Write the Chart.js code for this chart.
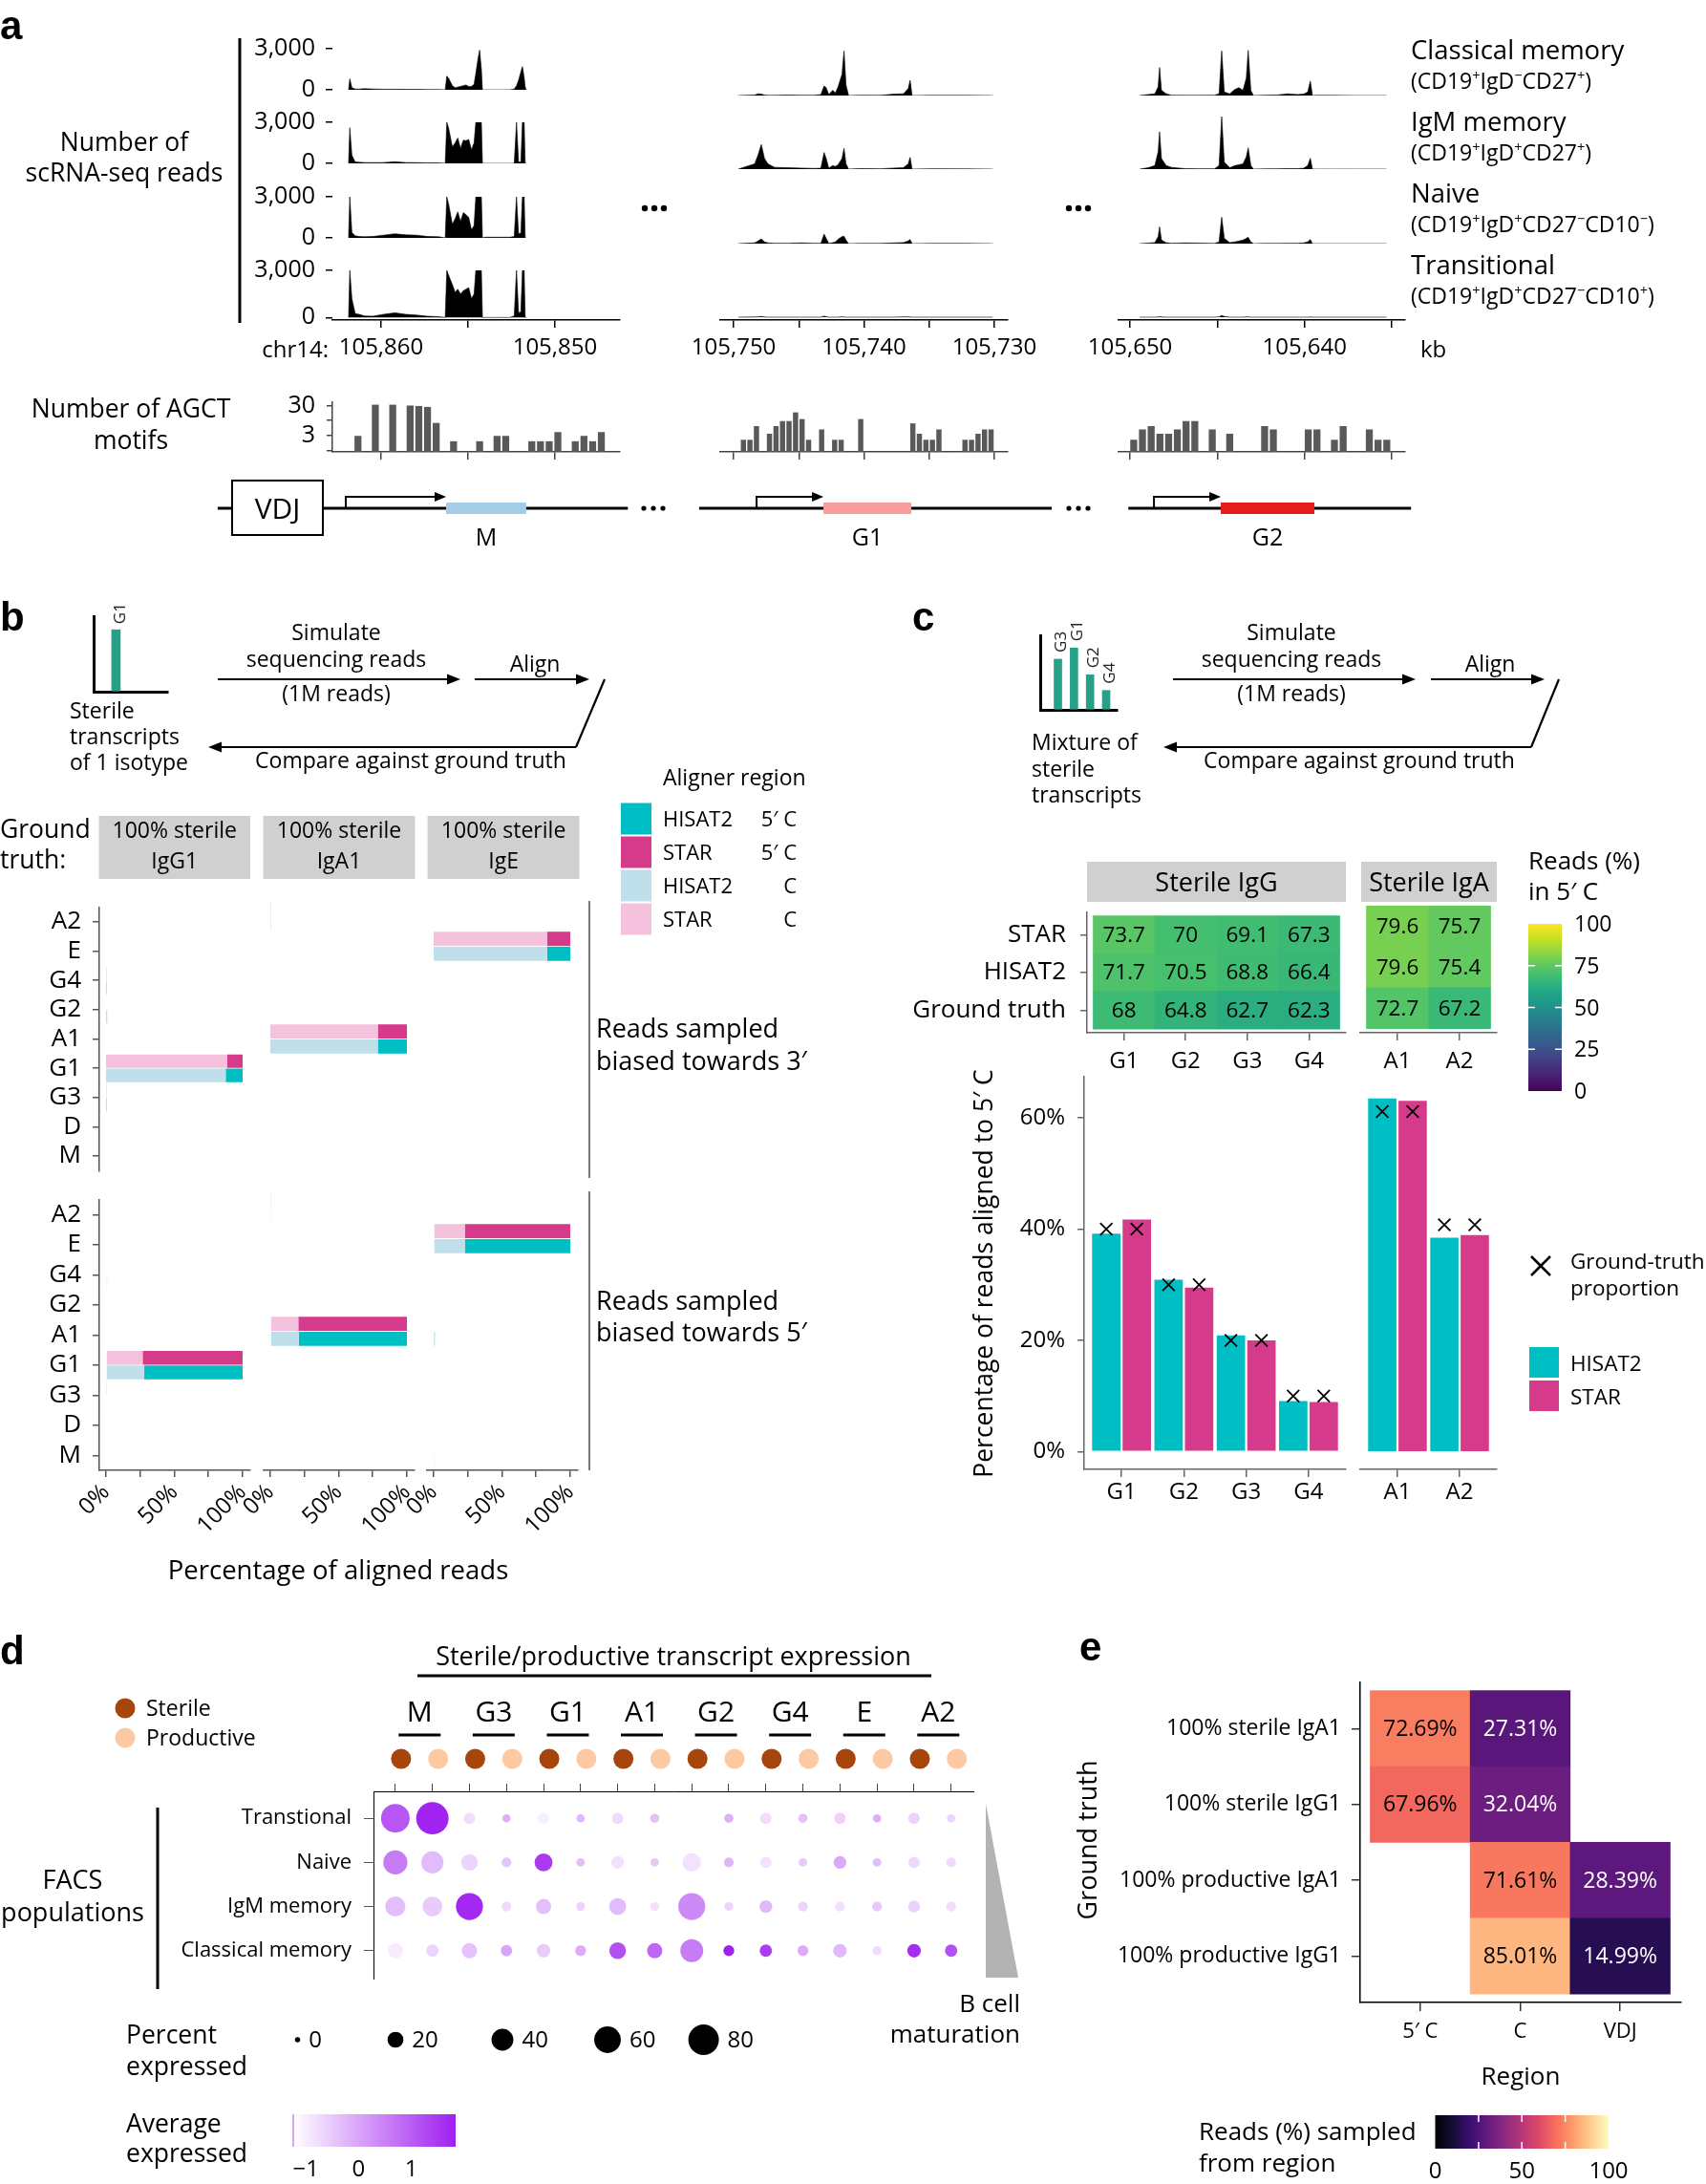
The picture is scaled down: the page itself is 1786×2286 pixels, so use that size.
<!DOCTYPE html>
<html>
<head>
<meta charset="utf-8">
<title>Sterile transcripts</title>
<script src="https://cdn.jsdelivr.net/npm/chart.js@4.4.1/dist/chart.umd.min.js"></script>
<style>
html,body{margin:0;padding:0;background:#fff;}
#root{position:relative;width:1786px;height:2286px;overflow:hidden;background:#fff;}
#ov{position:absolute;left:0;top:0;}
</style>
</head>
<body>
<div id="root"></div>
<script>
// ===================== DATA =====================
// ---- Panel a: scRNA-seq coverage (kb positions, reads) ----
const trackNames = ['Classical memory', 'IgM memory', 'Naive', 'Transitional'];
const seg1Kb = [105861.87,105861.80,105861.68,105861.49,105861.27,105860.95,105860.48,105859.85,105859.21,105858.58,105857.95,105857.32,105856.69,105856.31,105856.22,105856.12,105855.90,105855.74,105855.59,105855.43,105855.27,105855.12,105854.96,105854.80,105854.65,105854.55,105854.42,105854.33,105854.23,105854.17,105854.01,105853.54,105852.59,105852.34,105852.21,105852.09,105851.96,105851.87,105851.77,105851.71,105851.65];
const covClassicalS1 = [0,800,150,60,50,80,60,40,40,30, 30,20,20,0,1000,850,300,150,200,250, 300,350,250,250,400,1200,2300,2900,1500,0, 0,0,0,50,300,700,1300,1700,900,200, 0];
const covIgMS1 = [0,2600,600,100,80,60,50,60,120,60, 50,40,30,0,3000,2600,1200,1500,1850,1100, 1700,1650,1750,1000,1500,3000,3000,3000,3000,0, 0,0,0,0,3000,100,100,3000,3000,0, 0];
const covNaiveS1 = [0,3000,400,150,100,80,100,200,300,220, 200,100,80,0,3000,2500,1000,1400,1900,1200, 1850,1700,1500,600,900,3000,3000,3000,3000,0, 50,50,50,100,3000,300,350,3000,3000,0, 0];
const covTransS1 = [0,3000,1200,250,200,100,80,200,300,200, 150,80,50,0,3000,2700,2100,1600,1800,1500, 1700,1800,1900,1200,1500,3000,3000,3000,3000,0, 0,0,0,100,3000,300,350,3000,3000,0, 0];

const seg2Kb = [105749.65,105748.39,105748.13,105747.88,105747.63,105747.37,105746.86,105745.85,105744.83,105743.82,105743.31,105743.06,105742.90,105742.70,105742.40,105742.19,105741.99,105741.69,105741.53,105741.38,105741.18,105740.27,105738.74,105737.73,105736.97,105736.61,105736.46,105736.31,105734.68,105732.15,105730.12];
const covClassicalS2 = [0,30,100,80,30,10,10,30,20,20, 50,550,450,50,300,150,500,1200,2550,600, 0,20,10,80,100,400,870,0,10,10, 0];
const covIgMS2 = [0,300,800,1400,600,300,100,80,60,40, 50,950,600,50,200,150,250,600,1180,300, 0,30,20,60,80,300,670,0,20,10, 0];
const covNaiveS2 = [0,40,150,270,100,40,20,20,40,20, 20,545,300,20,50,100,250,400,420,200, 0,10,10,40,60,150,236,0,10,10, 0];
const covTransS2 = [0,10,20,40,10,0,0,0,0,0, 0,60,30,0,0,0,0,20,10,0, 0,0,0,0,15,20,10,0,0,0, 0];

const seg3Kb = [105649.45,105648.96,105648.58,105648.39,105648.31,105648.20,105647.93,105647.63,105646.87,105646.11,105645.16,105644.90,105644.75,105644.60,105644.29,105643.99,105643.76,105643.53,105643.34,105643.23,105643.08,105642.93,105642.32,105641.56,105640.99,105640.42,105640.05,105639.82,105639.67,105639.55,105639.29,105638.53,105637.01,105635.31];
const covClassicalS3 = [0,60,100,500,1600,300,100,20,10,10, 20,100,2550,200,100,350,450,300,1000,2580, 300,0,20,30,100,60,80,200,820,0, 10,10,0,0];
const covIgMS3 = [0,80,200,1000,2130,600,200,100,30,20, 20,200,3000,400,80,200,250,300,700,1220, 200,0,10,20,30,30,50,200,620,0, 0,0,0,0];
const covNaiveS3 = [0,30,60,400,960,200,50,20,40,30, 10,100,1510,300,60,100,150,200,300,364, 100,0,10,10,20,20,40,100,236,0, 0,0,0,0];
const covTransS3 = [0,0,0,10,30,10,0,0,0,0, 0,20,100,40,0,0,0,0,10,20, 0,0,0,0,0,0,0,0,10,0, 0,0,0,0];

const segTicks = [[105860,105855,105850],[105750,105745,105740,105735,105730],[105650,105645,105640,105635]];
const segTickLabels = [['105,860','','105,850'],['105,750','','105,740','','105,730'],['105,650','','105,640','']];

// ---- Panel a: AGCT motif counts per 0.5-kb bin ----
const agct1Kb = [105861.33,105860.33,105859.33,105858.33,105857.83,105857.33,105856.83,105855.83,105854.33,105853.33,105852.83,105851.33,105850.83,105850.33,105849.83,105848.83,105848.33,105847.83,105847.33];
const agct1 = [3,32,32,30,29,27,8,2,2,3,3,2,2,2,4,2,3,2,4];
const agct2Kb = [105749.25,105748.75,105748.25,105747.25,105746.75,105746.25,105745.75,105745.25,105744.75,105744.25,105743.25,105742.25,105741.75,105740.25,105736.25,105735.75,105735.25,105734.75,105734.25,105732.25,105731.75,105731.25,105730.75,105730.25];
const agct2 = [2,2,5,3,5,7,7,12.5,8,2,4,2,2,8,6,3,2,2,4,2,2,3,4,4];
const agct3Kb = [105649.79,105649.29,105648.79,105648.29,105647.79,105647.29,105646.79,105646.29,105645.29,105644.29,105642.29,105641.79,105639.79,105639.29,105638.29,105637.79,105636.29,105635.79,105635.29];
const agct3 = [2,4,5,3,3,4,7,7,4,3,5,4,4,4,2,5,4,2,2];

// ---- Panel a: gene model (kb) ----
const geneNames = ['M', 'G1', 'G2'];
const exonStartKb = [105856.26, 105743.11, 105644.80];
const exonEndKb = [105851.65, 105736.37, 105639.44];
const tssKb = [105862.03, 105748.24, 105648.63];
const backboneStartKb = [105869.4, 105752.65, 105650.1];
const backboneEndKb = [105845.8, 105725.6, 105633.9];
const vdjKb = [105868.57, 105863.35];

// ---- Panel b: % of aligned reads (A2,E,G4,G2,A1,G1,G3,D,M) ----
const bCats = ['A2','E','G4','G2','A1','G1','G3','D','M'];
const b3_IgG1_STAR_C    = [0,0,0.3,0,0,88.8,0.3,0,0];
const b3_IgG1_STAR_5C   = [0,0,0,0,0,11.2,0,0,0];
const b3_IgG1_HISAT2_C  = [0,0,0.7,0.9,0,87.6,0.7,0,0];
const b3_IgG1_HISAT2_5C = [0,0,0,0,0,12.4,0,0,0];
const b3_IgA1_STAR_C    = [0.3,0,0,0,78.7,0,0,0,0];
const b3_IgA1_STAR_5C   = [0,0,0,0,21.3,0,0,0,0];
const b3_IgA1_HISAT2_C  = [0.3,0,0,0,78.7,0,0,0,0];
const b3_IgA1_HISAT2_5C = [0,0,0,0,21.3,0,0,0,0];
const b3_IgE_STAR_C     = [0,83.2,0,0,0,0,0,0,0];
const b3_IgE_STAR_5C    = [0,16.8,0,0,0,0,0,0,0];
const b3_IgE_HISAT2_C   = [0,83.2,0,0,0,0,0,0,0];
const b3_IgE_HISAT2_5C  = [0,16.8,0,0,0,0,0,0,0];
const b5_IgG1_STAR_C    = [0,0,0,0,0,26.8,0.3,0,0];
const b5_IgG1_STAR_5C   = [0,0,0,0,0,73.2,0,0,0];
const b5_IgG1_HISAT2_C  = [0,0,0.8,0.5,0,28,0.5,0,0];
const b5_IgG1_HISAT2_5C = [0,0,0,0,0,72,0,0,0];
const b5_IgA1_STAR_C    = [0.3,0,0,0,20.5,0,0,0,0];
const b5_IgA1_STAR_5C   = [0,0,0,0,79.5,0,0,0,0];
const b5_IgA1_HISAT2_C  = [0.6,0,0,0,20.9,0,0,0,0];
const b5_IgA1_HISAT2_5C = [0,0,0,0,79.1,0,0,0,0];
const b5_IgE_STAR_C     = [0,22.8,0,0,0,0,0,0,0];
const b5_IgE_STAR_5C    = [0,77.2,0,0,0,0,0,0,0];
const b5_IgE_HISAT2_C   = [0,22.8,0,0,0,0,0,0,0.7];
const b5_IgE_HISAT2_5C  = [0,77.2,0,0,0.8,0,0,0,0];
const bFacetNames = [['100% sterile','IgG1'],['100% sterile','IgA1'],['100% sterile','IgE']];
const bMini = [0.82]; const bMiniLabels = ['G1'];

// ---- Panel c ----
const cIgG = ['G1','G2','G3','G4'];
const cIgA = ['A1','A2'];
const heatRows = ['Ground truth','HISAT2','STAR']; // bottom -> top
const heatIgG_STAR   = [73.7,70,69.1,67.3];
const heatIgG_HISAT2 = [71.7,70.5,68.8,66.4];
const heatIgG_GT     = [68,64.8,62.7,62.3];
const heatIgA_STAR   = [79.6,75.7];
const heatIgA_HISAT2 = [79.6,75.4];
const heatIgA_GT     = [72.7,67.2];
const pctIgG_HISAT2 = [39.2,30.9,20.9,9.1];
const pctIgG_STAR   = [41.7,29.5,20.0,8.9];
const gtIgG         = [40,30,20,10];
const pctIgA_HISAT2 = [62.3,37.7];
const pctIgA_STAR   = [61.9,38.2];
const gtIgA         = [60,40];
const cMini = [0.68,0.83,0.47,0.26]; const cMiniLabels = ['G3','G1','G2','G4'];

// ---- Panel d: dot plot ----
const dCols = ['M','G3','G1','A1','G2','G4','E','A2']; // each: sterile, productive
const dRows = ['Transtional','Naive','IgM memory','Classical memory'];
const dPctTransitional = [70,90,9,3.5,9,3.5,9,5,null,5,9,5,9,3.5,9,3.5];
const dAvgTransitional = [1.09,1.78,-0.77,-0.16,-1.04,-0.25,-0.77,-0.38,null,-0.18,-0.77,-0.38,-0.63,-0.13,-0.63,-0.65];
const dPctNaive = [49,41,22,6,26,4,12,4,28,6,9,4,12,4,9,6];
const dAvgNaive = [0.56,-0.32,-0.65,-0.45,1.48,-0.35,-0.82,-0.49,-0.85,-0.23,-0.82,-0.49,-0.06,-0.32,-0.71,-0.74];
const dPctIgM = [33,32,62,6,18,4.5,23,4.5,62,4.5,12,6,6,6,10,6];
const dAvgIgM = [-0.35,-0.51,1.73,-0.72,-0.38,-0.63,-0.32,-0.82,0.37,-0.65,-0.27,-0.65,-0.82,-0.47,-0.6,-0.77];
const dPctClassical = [18,11,18,9,14,8,22,18,44,8,11,8,14,5,14,11];
const dAvgClassical = [-0.99,-0.65,-0.4,0.0,-0.52,-0.1,1.19,0.86,0.56,1.84,1.45,-0.1,-0.27,-0.75,1.67,1.17];
const dSizeLegend = [0,20,40,60,80];
const dColorTicks = [-1,0,1];

// ---- Panel e ----
const eCols = ['5\u2032 C','C','VDJ'];
const eRows = ['100% productive IgG1','100% productive IgA1','100% sterile IgG1','100% sterile IgA1']; // bottom -> top
const eSterileIgA1 = [72.69,27.31,null];
const eSterileIgG1 = [67.96,32.04,null];
const eProductiveIgA1 = [null,71.61,28.39];
const eProductiveIgG1 = [null,85.01,14.99];

// ===================== HELPERS =====================
const FONT = '"Open Sans", Roboto, "Liberation Sans", sans-serif';
const OPEN = FONT;
Chart.defaults.font.family = FONT;
Chart.defaults.color = '#000';
const root = document.getElementById('root');

function mk(area, boxes, pad, cfg) {
  const b = Object.assign({l:0,r:0,t:0,b:0}, boxes || {});
  const p = Object.assign({l:20,r:20,t:20,b:20}, pad || {});
  const left = area[0] - b.l - p.l, top = area[1] - b.t - p.t;
  const w = Math.round(area[2] - area[0] + b.l + b.r + p.l + p.r);
  const h = Math.round(area[3] - area[1] + b.t + b.b + p.t + p.b);
  const cv = document.createElement('canvas');
  cv.width = w; cv.height = h;
  cv.style.cssText = 'position:absolute;left:' + left + 'px;top:' + top + 'px;width:' + w + 'px;height:' + h + 'px;';
  root.appendChild(cv);
  const o = cfg.options = cfg.options || {};
  o.responsive = false; o.animation = false; o.events = [];
  o.layout = {padding: {left: p.l, right: p.r, top: p.t, bottom: p.b}};
  o.plugins = Object.assign({legend: {display: false}, tooltip: {enabled: false}}, o.plugins || {});
  for (const sc of Object.values(o.scales || {})) {
    const pos = sc.position;
    const size = pos === 'left' ? b.l : pos === 'right' ? b.r : pos === 'top' ? b.t : b.b;
    sc.afterFit = s => { if (s.isHorizontal()) s.height = size; else s.width = size; };
  }
  return new Chart(cv, cfg);
}

function axis(o) {
  const a = {
    type: o.type || 'linear',
    position: o.pos,
    display: o.display !== false,
    reverse: !!o.reverse,
    offset: !!o.offset,
    border: {display: o.border !== false, color: o.bc || '#000', width: o.bw || 1.5},
    grid: {display: true, drawOnChartArea: false, drawTicks: (o.tl || 0) > 0, tickLength: o.tl || 0,
           color: o.tc || o.bc || '#000', lineWidth: o.tw || 1.5, offset: false},
    ticks: {display: o.labels !== false, padding: o.pad || 0, font: {size: o.fs || 24, family: o.ff || FONT},
            color: '#000', autoSkip: false, maxRotation: o.rot || 0, minRotation: o.rot || 0}
  };
  if (o.min !== undefined) a.min = o.min;
  if (o.max !== undefined) a.max = o.max;
  if (o.tickVals) a.afterBuildTicks = s => { s.ticks = o.tickVals.map(v => ({value: v})); };
  if (o.fmt) a.ticks.callback = o.fmt;
  if (o.stacked) a.stacked = true;
  return a;
}

function hexRgb(h) { return [parseInt(h.slice(1,3),16), parseInt(h.slice(3,5),16), parseInt(h.slice(5,7),16)]; }
function ramp(stops, t) {
  t = Math.max(0, Math.min(1, t));
  const n = stops.length - 1, i = Math.min(n - 1, Math.floor(t * n)), f = t * n - i;
  const a = hexRgb(stops[i]), b = hexRgb(stops[i + 1]);
  return 'rgb(' + a.map((v, k) => Math.round(v + (b[k] - v) * f)).join(',') + ')';
}
const VIRIDIS = ['#440154','#482475','#414487','#355f8d','#2a788e','#21918c','#22a884','#44bf70','#7ad151','#bddf26','#fde725'];
const MAGMA = ['#000004','#140e36','#3b0f70','#641a80','#8c2981','#b73779','#de4968','#f7705c','#fe9f6d','#fecf92','#fcfdbf'];
const viridis = v => ramp(VIRIDIS, v / 100);
const magma = v => ramp(MAGMA, v / 100);
const AVG_LO = -1.25, AVG_HI = 1.84;
const purple = v => ramp(['#ffffff', '#a020f0'], (v - AVG_LO) / (AVG_HI - AVG_LO));
const dotRadius = p => 0.5 * Math.sqrt(30 + 12.4 * p);

function heatSets(rows, colorFn, fmt, textColorFn) {
  return rows.map(({y, vals}) => {
    const pts = [], bg = [], lab = [], tc = [];
    vals.forEach((v, i) => {
      if (v == null) return;
      pts.push({x: i + 1, y: [y - 0.5, y + 0.5]});
      bg.push(colorFn(v)); lab.push(fmt(v)); tc.push(textColorFn ? textColorFn(v) : '#000');
    });
    return {type: 'bar', data: pts, backgroundColor: bg, cellLabels: lab, textColors: tc,
            grouped: false, barPercentage: 1, categoryPercentage: 1, borderWidth: 0};
  });
}

const cellText = {
  id: 'cellText',
  afterDatasetsDraw(chart, args, o) {
    const ctx = chart.ctx;
    chart.data.datasets.forEach((ds, di) => {
      if (!ds.cellLabels) return;
      chart.getDatasetMeta(di).data.forEach((el, i) => {
        ctx.save();
        ctx.font = o.font; ctx.fillStyle = ds.textColors[i];
        ctx.textAlign = 'center'; ctx.textBaseline = 'middle';
        ctx.fillText(ds.cellLabels[i], el.x, (el.y + el.base) / 2 + 1);
        ctx.restore();
      });
    });
  }
};

const barLabel = {
  id: 'barLabel',
  afterDatasetsDraw(chart, args, o) {
    const ctx = chart.ctx;
    chart.getDatasetMeta(0).data.forEach((el, i) => {
      ctx.save();
      ctx.translate(el.x + o.dx, el.y - o.gap);
      ctx.rotate(-Math.PI / 2);
      ctx.font = '17px ' + FONT; ctx.fillStyle = '#222';
      ctx.textAlign = 'left'; ctx.textBaseline = 'middle';
      ctx.fillText(o.labels[i], 0, 0);
      ctx.restore();
    });
  }
};

const EXON_COLORS = ['#a3cde6', '#f99d9d', '#e21d1a'];
const geneModel = {
  id: 'geneModel',
  afterDraw(chart, args, o) {
    const ctx = chart.ctx, xs = chart.scales.x, s = o.seg;
    const px = v => xs.getPixelForValue(v);
    const yl = chart.chartArea.bottom + 59;
    ctx.save();
    ctx.strokeStyle = '#000'; ctx.fillStyle = '#000';
    ctx.lineWidth = 3;
    ctx.beginPath(); ctx.moveTo(px(backboneStartKb[s]), yl); ctx.lineTo(px(backboneEndKb[s]), yl); ctx.stroke();
    const x0 = px(tssKb[s]), x1 = px(exonStartKb[s]);
    ctx.lineWidth = 2;
    ctx.beginPath(); ctx.moveTo(x0, yl); ctx.lineTo(x0, yl - 12); ctx.lineTo(x1 - 8, yl - 12); ctx.stroke();
    ctx.beginPath(); ctx.moveTo(x1, yl - 12); ctx.lineTo(x1 - 12, yl - 17); ctx.lineTo(x1 - 12, yl - 7); ctx.closePath(); ctx.fill();
    const e0 = px(exonStartKb[s]), e1 = px(exonEndKb[s]);
    ctx.fillStyle = EXON_COLORS[s];
    ctx.fillRect(e0, yl - 6, e1 - e0, 12);
    ctx.fillStyle = '#000'; ctx.font = '25px ' + FONT; ctx.textAlign = 'center'; ctx.textBaseline = 'alphabetic';
    ctx.fillText(geneNames[s], (e0 + e1) / 2, yl + 39);
    if (s === 0) {
      const v0 = px(vdjKb[0]), v1 = px(vdjKb[1]);
      ctx.fillStyle = '#fff'; ctx.fillRect(v0, yl - 29, v1 - v0, 57);
      ctx.lineWidth = 2; ctx.strokeRect(v0, yl - 29, v1 - v0, 57);
      ctx.fillStyle = '#000'; ctx.font = '30px ' + FONT;
      ctx.fillText('VDJ', (v0 + v1) / 2, yl + 11);
    }
    ctx.restore();
  }
};

const dHeader = {
  id: 'dHeader',
  afterDraw(chart) {
    const ctx = chart.ctx, xs = chart.scales.x, top = chart.chartArea.top;
    ctx.save();
    dCols.forEach((name, k) => {
      const a = xs.getPixelForValue(2 * k + 1) + 6, b = xs.getPixelForValue(2 * k + 2) + 6, c = (a + b) / 2;
      ctx.fillStyle = '#000'; ctx.font = '30px ' + FONT; ctx.textAlign = 'center'; ctx.textBaseline = 'alphabetic';
      ctx.fillText(name, c, top - 73);
      ctx.fillRect(c - 22, top - 60.5, 44, 3);
      [[a, '#a6450c'], [b, '#fdc9a3']].forEach(([x, col]) => {
        ctx.beginPath(); ctx.arc(x, top - 34, 10.5, 0, 2 * Math.PI); ctx.fillStyle = col; ctx.fill();
      });
    });
    ctx.restore();
  }
};

// ===================== PANEL a =====================
const segPx = [[348, 649], [754, 1055], [1171, 1471]];
const segKbLeft = [105862.80, 105751.03, 105650.66];
const segKbRight = [105846.26, 105728.97, 105634.24];
const trackTopPx = [45, 122, 200, 277];
const trackZeroPx = [100, 177, 255, 332];
const xAxisPx = 335;
const segKbs = [seg1Kb, seg2Kb, seg3Kb];
const covBy = [
  [covClassicalS1, covClassicalS2, covClassicalS3],
  [covIgMS1, covIgMS2, covIgMS3],
  [covNaiveS1, covNaiveS2, covNaiveS3],
  [covTransS1, covTransS2, covTransS3]
];
for (let s = 0; s < 3; s++) {
  for (let t = 0; t < 4; t++) {
    const last = t === 3;
    const bottom = last ? xAxisPx : trackZeroPx[t];
    const yMin = last ? -3000 * (xAxisPx - trackZeroPx[t]) / (trackZeroPx[t] - trackTopPx[t]) : 0;
    mk([segPx[s][0], trackTopPx[t], segPx[s][1], bottom], {l: s === 0 ? 120 : 0, b: last ? 50 : 0}, {l: 60, r: 60}, {
      type: 'line',
      data: {datasets: [{data: segKbs[s].map((x, i) => ({x: x, y: covBy[t][s][i]})), borderColor: '#000', backgroundColor: '#000',
                         borderWidth: 0.6, pointRadius: 0, fill: 'origin', tension: 0}]},
      options: {scales: {
        x: axis({pos: 'bottom', display: last, min: segKbRight[s], max: segKbLeft[s], reverse: true, tickVals: segTicks[s],
                 fmt: v => segTickLabels[s][segTicks[s].indexOf(v)], tl: 8, pad: 7, fs: 24}),
        y: axis({pos: 'left', display: s === 0, min: yMin, max: 3000, tickVals: [0, 3000],
                 fmt: v => v === 0 ? '0' : '3,000', tl: 7, pad: 11, fs: 25, border: false})
      }}
    });
  }
}
const agctKbs = [agct1Kb, agct2Kb, agct3Kb];
const agctVals = [agct1, agct2, agct3];
for (let s = 0; s < 3; s++) {
  mk([segPx[s][0], 414, segPx[s][1], 473], {l: s === 0 ? 120 : 0, b: 10}, {l: 30, r: 60, t: 20, b: 110}, {
    type: 'bar',
    data: {datasets: [{data: agctKbs[s].map((x, i) => ({x: x, y: agctVals[s][i]})), backgroundColor: '#595959',
                       barPercentage: 0.8, categoryPercentage: 1}]},
    options: {
      plugins: {geneModel: {seg: s}},
      scales: {
        x: axis({pos: 'bottom', min: segKbRight[s], max: segKbLeft[s], reverse: true, tickVals: segTicks[s], labels: false, tl: 8, bc: '#444'}),
        y: axis({type: 'logarithmic', pos: 'left', display: s === 0, min: 0.89, max: 38.6, tickVals: [1, 3, 10, 30],
                 fmt: v => (v === 3 || v === 30) ? String(v) : '', tl: 6, pad: 12, fs: 25, bc: '#444'})
      }
    },
    plugins: [geneModel]
  });
}

// ===================== PANEL b =====================
mk([98, 645, 176, 724], {}, {t: 40}, {
  type: 'bar',
  data: {datasets: [{data: bMini.map((v, i) => ({x: 0.3 + i, y: v})), backgroundColor: '#26a086', barThickness: 9}]},
  options: {plugins: {barLabel: {labels: bMiniLabels, dx: 5, gap: 6}},
    scales: {x: axis({pos: 'bottom', min: 0, max: 1, labels: false, bw: 3}), y: axis({pos: 'left', min: 0, max: 1, labels: false, bw: 3})}},
  plugins: [barLabel]
});
const bFacetLeft = [104, 276, 447];
const bRowY = [[942, 1233], [1248, 1539]];
const bData = [
  [[b3_IgG1_STAR_C, b3_IgG1_STAR_5C, b3_IgG1_HISAT2_C, b3_IgG1_HISAT2_5C],
   [b3_IgA1_STAR_C, b3_IgA1_STAR_5C, b3_IgA1_HISAT2_C, b3_IgA1_HISAT2_5C],
   [b3_IgE_STAR_C, b3_IgE_STAR_5C, b3_IgE_HISAT2_C, b3_IgE_HISAT2_5C]],
  [[b5_IgG1_STAR_C, b5_IgG1_STAR_5C, b5_IgG1_HISAT2_C, b5_IgG1_HISAT2_5C],
   [b5_IgA1_STAR_C, b5_IgA1_STAR_5C, b5_IgA1_HISAT2_C, b5_IgA1_HISAT2_5C],
   [b5_IgE_STAR_C, b5_IgE_STAR_5C, b5_IgE_HISAT2_C, b5_IgE_HISAT2_5C]]
];
const COL_STAR_C = '#f4c2dc', COL_STAR_5C = '#d63a8a', COL_HIS_C = '#bfe0eb', COL_HIS_5C = '#00bfc4';
for (let r = 0; r < 2; r++) {
  for (let f = 0; f < 3; f++) {
    const d = bData[r][f];
    mk([bFacetLeft[f], bRowY[r][0], bFacetLeft[f] + 158, bRowY[r][1]], {l: f === 0 ? 100 : 0, b: r === 1 ? 80 : 0}, {l: 40, r: 40}, {
      type: 'bar',
      data: {labels: bCats, datasets: [
        {data: d[0], backgroundColor: COL_STAR_C, stack: 'S'},
        {data: d[1], backgroundColor: COL_STAR_5C, stack: 'S'},
        {data: d[2], backgroundColor: COL_HIS_C, stack: 'H'},
        {data: d[3], backgroundColor: COL_HIS_5C, stack: 'H'}
      ]},
      options: {
        indexAxis: 'y',
        datasets: {bar: {barPercentage: 0.95, categoryPercentage: 0.97, borderWidth: 0}},
        scales: {
          x: axis({pos: 'bottom', display: r === 1, min: -4.9, max: 105.6, stacked: true, tickVals: [0, 25, 50, 75, 100],
                   fmt: v => ({0: '0%', 50: '50%', 100: '100%'})[v] || '', tl: 7, pad: 2, rot: 45, bc: '#555', fs: 24}),
          y: axis({type: 'category', pos: 'left', display: f === 0, offset: true, tl: 7, pad: 12, bc: '#555', fs: 26})
        }
      }
    });
  }
}

// ===================== PANEL c =====================
mk([1089, 665, 1170, 743], {}, {t: 50}, {
  type: 'bar',
  data: {datasets: [{data: cMini.map((v, i) => ({x: i + 1, y: v})), backgroundColor: '#26a086', barThickness: 8}]},
  options: {plugins: {barLabel: {labels: cMiniLabels, dx: 4, gap: 7}},
    scales: {x: axis({pos: 'bottom', min: -0.1, max: 4.71, labels: false, bw: 3}), y: axis({pos: 'left', min: 0, max: 1, labels: false, bw: 3})}},
  plugins: [barLabel]
});
const fmtHeat = v => String(v);
mk([1138, 944, 1409, 1081], {l: 200, b: 50}, {}, {
  type: 'bar',
  data: {datasets: heatSets([{y: 0, vals: heatIgG_GT}, {y: 1, vals: heatIgG_HISAT2}, {y: 2, vals: heatIgG_STAR}], viridis, fmtHeat)},
  options: {plugins: {cellText: {font: '22.5px ' + FONT}},
    scales: {
      x: axis({pos: 'bottom', min: 0.4, max: 4.6, tickVals: [1, 2, 3, 4], fmt: v => cIgG[v - 1], tl: 8, pad: 8, bc: '#666', fs: 24}),
      y: axis({pos: 'left', min: -0.6, max: 2.6, tickVals: [0, 1, 2], fmt: v => heatRows[v], tl: 7, pad: 15, bc: '#666', fs: 26})
    }},
  plugins: [cellText]
});
mk([1424, 944, 1567, 1081], {b: 50}, {}, {
  type: 'bar',
  data: {datasets: heatSets([{y: 0, vals: heatIgA_GT}, {y: 1, vals: heatIgA_HISAT2}, {y: 2, vals: heatIgA_STAR}], viridis, fmtHeat)},
  options: {plugins: {cellText: {font: '22.5px ' + FONT}},
    scales: {
      x: axis({pos: 'bottom', min: 0.4, max: 2.6, tickVals: [1, 2], fmt: v => cIgA[v - 1], tl: 8, pad: 8, bc: '#666', fs: 24}),
      y: axis({pos: 'left', display: false, min: -0.6, max: 2.6})
    }},
  plugins: [cellText]
});
function cBarSets(his, star, gt) {
  const gtStyle = {type: 'scatter', order: -1, pointStyle: 'crossRot', pointRadius: 9, pointBorderWidth: 1.8, pointBorderColor: '#000', pointBackgroundColor: '#000'};
  return [
    {type: 'bar', data: his.map((v, i) => ({x: i + 1, y: v})), backgroundColor: COL_HIS_5C, barPercentage: 0.93, categoryPercentage: 0.98},
    {type: 'bar', data: star.map((v, i) => ({x: i + 1, y: v})), backgroundColor: COL_STAR_5C, barPercentage: 0.93, categoryPercentage: 0.98},
    Object.assign({data: gt.map((v, i) => ({x: i + 1 - 0.245, y: v}))}, gtStyle),
    Object.assign({data: gt.map((v, i) => ({x: i + 1 + 0.245, y: v}))}, gtStyle)
  ];
}
mk([1135, 1119, 1409, 1538], {l: 150, b: 50}, {}, {
  type: 'bar',
  data: {datasets: cBarSets(pctIgG_HISAT2, pctIgG_STAR, gtIgG)},
  options: {scales: {
    x: axis({pos: 'bottom', min: 0.4, max: 4.6, tickVals: [1, 2, 3, 4], fmt: v => cIgG[v - 1], tl: 8, pad: 2, bc: '#666', fs: 24}),
    y: axis({pos: 'left', min: -3.2, max: 67.5, tickVals: [0, 20, 40, 60], fmt: v => v + '%', tl: 7, pad: 13, bc: '#666', fs: 24})
  }}
});
mk([1424, 1119, 1567, 1538], {b: 50}, {}, {
  type: 'bar',
  data: {datasets: cBarSets(pctIgA_HISAT2, pctIgA_STAR, gtIgA)},
  options: {scales: {
    x: axis({pos: 'bottom', min: 0.4, max: 2.6, tickVals: [1, 2], fmt: v => cIgA[v - 1], tl: 8, pad: 2, bc: '#666', fs: 24}),
    y: axis({pos: 'left', display: false, min: -3.2, max: 67.5})
  }}
});

// ===================== PANEL d =====================
const dPct = [dPctTransitional, dPctNaive, dPctIgM, dPctClassical];
const dAvg = [dAvgTransitional, dAvgNaive, dAvgIgM, dAvgClassical];
mk([391, 1875, 1019, 2078], {l: 260, t: 8}, {t: 100}, {
  type: 'bubble',
  data: {datasets: dPct.map((row, r) => {
    const pts = [], bg = [];
    row.forEach((p, i) => { if (p == null) return; pts.push({x: i + 1, y: r + 1, r: dotRadius(p)}); bg.push(purple(dAvg[r][i])); });
    return {data: pts, backgroundColor: bg, borderWidth: 0};
  })},
  options: {scales: {
    x: axis({pos: 'top', min: 0.41, max: 16.6, tickVals: dPctNaive.map((_, i) => i + 1), labels: false, tl: 8, bw: 1, tw: 1, tc: '#444'}),
    y: axis({pos: 'left', min: 0.39, max: 4.65, reverse: true, tickVals: [1, 2, 3, 4], fmt: v => dRows[v - 1], tl: 10, pad: 13, bw: 1, tw: 1, tc: '#555', fs: 22})
  }},
  plugins: [dHeader]
});

// ===================== PANEL e =====================
mk([1424, 1756, 1760, 2096], {l: 300, b: 50}, {}, {
  type: 'bar',
  data: {datasets: heatSets([{y: 1, vals: eProductiveIgG1}, {y: 2, vals: eProductiveIgA1}, {y: 3, vals: eSterileIgG1}, {y: 4, vals: eSterileIgA1}],
                            magma, v => v.toFixed(2) + '%', v => v < 50 ? '#fff' : '#000')},
  options: {plugins: {cellText: {font: '23px ' + OPEN}},
    scales: {
      x: axis({pos: 'bottom', min: 0.4, max: 3.61, tickVals: [1, 2, 3], fmt: v => eCols[v - 1], tl: 9, pad: 9, ff: OPEN, fs: 22, tc: '#333'}),
      y: axis({pos: 'left', min: 0.39, max: 4.61, tickVals: [1, 2, 3, 4], fmt: v => eRows[v - 1], tl: 9, pad: 11, ff: OPEN, fs: 23, tc: '#333'})
    }},
  plugins: [cellText]
});

// ===================== SVG OVERLAY (text, schematic) =====================
let svg = '';
function T(s, x, y, o) {
  o = o || {};
  const size = o.size || 25, anchor = o.a === 'c' ? 'middle' : o.a === 'r' ? 'end' : 'start';
  const fam = o.fam || FONT;
  const rot = o.rot ? ' transform="rotate(' + o.rot + ' ' + x + ' ' + y + ')"' : '';
  svg += '<text x="' + x + '" y="' + y + '" font-size="' + size + '" text-anchor="' + anchor + '" font-family=\'' + fam + '\'' +
         (o.w ? ' font-weight="' + o.w + '"' : '') + rot + ' fill="' + (o.fill || '#000') + '">' + s + '</text>';
}
function L(x1, y1, x2, y2, w, c) { svg += '<line x1="' + x1 + '" y1="' + y1 + '" x2="' + x2 + '" y2="' + y2 + '" stroke="' + (c || '#000') + '" stroke-width="' + (w || 2) + '"/>'; }
function R(x, y, w, h, fill) { svg += '<rect x="' + x + '" y="' + y + '" width="' + w + '" height="' + h + '" fill="' + fill + '"/>'; }
function C(x, y, r, fill) { svg += '<circle cx="' + x + '" cy="' + y + '" r="' + r + '" fill="' + fill + '"/>'; }
function arrowR(x1, x2, y) { L(x1, y, x2 - 8, y, 2.2); svg += '<polygon points="' + x2 + ',' + y + ' ' + (x2 - 14) + ',' + (y - 5.5) + ' ' + (x2 - 14) + ',' + (y + 5.5) + '" fill="#000"/>'; }
function arrowL(x1, x2, y) { L(x1, y, x2 + 8, y, 2.2); svg += '<polygon points="' + x2 + ',' + y + ' ' + (x2 + 14) + ',' + (y - 5.5) + ' ' + (x2 + 14) + ',' + (y + 5.5) + '" fill="#000"/>'; }
function dots3(x, y, r) { [-10, 0, 10].forEach(d => C(x + d, y, r, '#000')); }
function supText(parts, x, y, size) {
  let s = '<text x="' + x + '" y="' + y + '" font-size="' + size + '" font-family=\'' + FONT + '\' fill="#000">';
  let up = false;
  parts.forEach(([t, isSup]) => {
    if (isSup && !up) { s += '<tspan dy="-9" font-size="14.5">' + t + '</tspan>'; up = true; }
    else if (isSup && up) { s += '<tspan font-size="14.5">' + t + '</tspan>'; }
    else if (!isSup && up) { s += '<tspan dy="9">' + t + '</tspan>'; up = false; }
    else { s += '<tspan>' + t + '</tspan>'; }
  });
  svg += s + '</text>';
}

const defs = '<defs>' +
  '<linearGradient id="gV" x1="0" y1="1" x2="0" y2="0">' + VIRIDIS.map((c, i) => '<stop offset="' + (i / 10) + '" stop-color="' + c + '"/>').join('') + '</linearGradient>' +
  '<linearGradient id="gM" x1="0" y1="0" x2="1" y2="0">' + MAGMA.map((c, i) => '<stop offset="' + (i / 10) + '" stop-color="' + c + '"/>').join('') + '</linearGradient>' +
  '<linearGradient id="gP" x1="0" y1="0" x2="1" y2="0"><stop offset="0" stop-color="#ffffff"/><stop offset="1" stop-color="#a020f0"/></linearGradient>' +
  '</defs>';

// panel letters
const BOLD = '"Liberation Sans", Arial, sans-serif';
T('a', 0, 41, {size: 42, w: 'bold', fam: BOLD});
T('b', 0, 660, {size: 42, w: 'bold', fam: BOLD});
T('c', 955, 660, {size: 42, w: 'bold', fam: BOLD});
T('d', 0, 1742, {size: 42, w: 'bold', fam: BOLD});
T('e', 1130, 1738, {size: 42, w: 'bold', fam: BOLD});

// panel a
T('Number of', 130, 158, {a: 'c', size: 26.5});
T('scRNA-seq reads', 130, 190, {a: 'c', size: 26.5});
L(251, 40, 251, 338, 3);
T('chr14:', 344, 374, {a: 'r', size: 24});
T('kb', 1487, 374, {size: 24});
dots3(685, 218, 3.2); dots3(1129, 218, 3.2);
const subParts = [
  [['(CD19', 0], ['+', 1], ['IgD', 0], ['\u2212', 1], ['CD27', 0], ['+', 1], [')', 0]],
  [['(CD19', 0], ['+', 1], ['IgD', 0], ['+', 1], ['CD27', 0], ['+', 1], [')', 0]],
  [['(CD19', 0], ['+', 1], ['IgD', 0], ['+', 1], ['CD27', 0], ['\u2212', 1], ['CD10', 0], ['\u2212', 1], [')', 0]],
  [['(CD19', 0], ['+', 1], ['IgD', 0], ['+', 1], ['CD27', 0], ['\u2212', 1], ['CD10', 0], ['+', 1], [')', 0]]
];
const labelBase = [62, 137, 212, 287];
trackNames.forEach((n, i) => { T(n, 1477, labelBase[i], {size: 27.5}); supText(subParts[i], 1477, labelBase[i] + 31, 23); });
T('Number of AGCT', 137, 437, {a: 'c', size: 26.5});
T('motifs', 137, 470, {a: 'c', size: 26.5});
dots3(684, 532, 2.6); dots3(1129, 532, 2.6);

// panel b
const FS_FLOW = 23;
T('Simulate', 352, 670, {a: 'c', size: FS_FLOW}); T('sequencing reads', 352, 698, {a: 'c', size: FS_FLOW}); T('(1M reads)', 352, 734, {a: 'c', size: FS_FLOW});
T('Align', 560, 703, {a: 'c', size: FS_FLOW}); T('Compare against ground truth', 430, 804, {a: 'c', size: FS_FLOW});
arrowR(228, 482, 711); arrowR(497, 617, 711); L(633, 711, 603, 782, 2.2); arrowL(603, 218, 782);
T('Sterile', 73, 752, {size: FS_FLOW}); T('transcripts', 73, 779, {size: FS_FLOW}); T('of 1 isotype', 73, 806, {size: FS_FLOW});
T('Aligner region', 694, 822, {size: 23});
const legB = [['HISAT2', '5\u2032 C', COL_HIS_5C], ['STAR', '5\u2032 C', COL_STAR_5C], ['HISAT2', 'C', COL_HIS_C], ['STAR', 'C', COL_STAR_C]];
legB.forEach(([a, b, col], i) => { const cy = 857 + 35 * i; R(650, cy - 16.5, 32, 33, col); T(a, 694, cy + 8, {size: 22}); T(b, 834, cy + 8, {size: 22, a: 'r'}); });
T('Ground', 0, 877, {size: 26.5}); T('truth:', 0, 909, {size: 26.5});
const stripX = [[103.5, 158.5], [275.5, 159], [447.6, 159]];
stripX.forEach(([x, w], i) => { R(x, 854, w, 66, '#d0d0d0'); T(bFacetNames[i][0], x + w / 2, 877, {a: 'c', size: 23}); T(bFacetNames[i][1], x + w / 2, 909, {a: 'c', size: 23}); });
L(617, 943, 617, 1233, 2, '#777'); L(617, 1247, 617, 1539, 2, '#777');
T('Reads sampled', 624, 1086, {size: 27}); T('biased towards 3\u2032', 624, 1120, {size: 27});
T('Reads sampled', 624, 1371, {size: 27}); T('biased towards 5\u2032', 624, 1404, {size: 27});
T('Percentage of aligned reads', 354, 1653, {a: 'c', size: 27.5});

// panel c
T('Simulate', 1352, 670, {a: 'c', size: FS_FLOW}); T('sequencing reads', 1352, 698, {a: 'c', size: FS_FLOW}); T('(1M reads)', 1352, 734, {a: 'c', size: FS_FLOW});
T('Align', 1560, 703, {a: 'c', size: FS_FLOW}); T('Compare against ground truth', 1423, 804, {a: 'c', size: FS_FLOW});
arrowR(1228, 1482, 711); arrowR(1498, 1617, 711); L(1632, 711, 1603, 782, 2.2); arrowL(1603, 1218, 782);
T('Mixture of', 1080, 785, {size: FS_FLOW}); T('sterile', 1080, 813, {size: FS_FLOW}); T('transcripts', 1080, 840, {size: FS_FLOW});
R(1138, 902, 271, 42, '#d0d0d0'); T('Sterile IgG', 1273.5, 933, {a: 'c', size: 27});
R(1425, 902, 142, 42, '#d0d0d0'); T('Sterile IgA', 1496, 933, {a: 'c', size: 27});
T('Reads (%)', 1600, 910, {size: 26}); T('in 5\u2032 C', 1600, 942, {size: 26});
svg += '<rect x="1600" y="967" width="35" height="175" fill="url(#gV)"/>';
[25, 50, 75].forEach(v => { const y = 1142 - v * 1.75; L(1600, y, 1607, y, 1.5, '#fff'); L(1628, y, 1635, y, 1.5, '#fff'); });
[0, 25, 50, 75, 100].forEach(v => T(String(v), 1648, 1142 - v * 1.75 + 8, {size: 23}));
L(1603, 1315, 1623, 1335, 2.5); L(1603, 1335, 1623, 1315, 2.5);
T('Ground-truth', 1644, 1328, {size: 22.5}); T('proportion', 1644, 1356, {size: 22.5});
R(1601, 1410, 31, 32, COL_HIS_5C); R(1601, 1445, 31, 32, COL_STAR_5C);
T('HISAT2', 1644, 1435, {size: 22.5}); T('STAR', 1644, 1470, {size: 22.5});
T('Percentage of reads aligned to 5\u2032 C', 1039, 1333, {a: 'c', size: 26.5, rot: -90});

// panel d
T('Sterile/productive transcript expression', 705, 1743, {a: 'c', size: 27});
L(437, 1754, 975, 1754, 3);
C(131, 1788, 10.5, '#a6450c'); C(131, 1819, 10.5, '#fdc9a3');
T('Sterile', 153, 1796, {size: 23}); T('Productive', 153, 1827, {size: 23});
T('FACS', 76, 1977, {a: 'c', size: 27}); T('populations', 76, 2011, {a: 'c', size: 27});
L(165, 1892, 165, 2082, 3);
svg += '<polygon points="1032,1888 1032,2070 1066,2070" fill="#b3b3b3"/>';
T('B cell', 1068, 2106, {a: 'r', size: 26}); T('maturation', 1068, 2138, {a: 'r', size: 26});
T('Percent', 132, 2139, {size: 26.5}); T('expressed', 132, 2172, {size: 26.5});
const sizeLegX = [311.5, 414, 526, 636, 736.6];
dSizeLegend.forEach((p, i) => { const r = dotRadius(p); C(sizeLegX[i], 2135, r, '#000'); T(String(p), sizeLegX[i] + r + 9, 2143, {size: 24}); });
T('Average', 132, 2232, {size: 26.5}); T('expressed', 132, 2263, {size: 26.5});
svg += '<rect x="306.5" y="2213" width="170.5" height="34" fill="url(#gP)"/>';
L(307, 2213, 307, 2247, 1.5, '#c58af5');
dColorTicks.forEach(v => T(v < 0 ? '\u2212' + Math.abs(v) : String(v), 306.5 + (v - AVG_LO) / (AVG_HI - AVG_LO) * 170.5, 2278, {a: 'c', size: 24}));

// panel e
T('Ground truth', 1148, 1926, {a: 'c', size: 27, rot: -90});
T('Region', 1592, 2182, {a: 'c', size: 26});
T('Reads (%) sampled', 1255, 2240, {size: 26}); T('from region', 1255, 2273, {size: 26});
svg += '<rect x="1502.5" y="2214" width="181.5" height="35" fill="url(#gM)"/>';
[25, 50, 75].forEach(v => { const x = 1502.5 + v * 1.815; L(x, 2214, x, 2221, 1.5, '#fff'); L(x, 2242, x, 2249, 1.5, '#fff'); });
[0, 50, 100].forEach(v => T(String(v), 1502.5 + v * 1.815, 2280, {a: 'c', size: 24}));

const ov = document.createElementNS('http://www.w3.org/2000/svg', 'svg');
ov.setAttribute('id', 'ov'); ov.setAttribute('width', '1786'); ov.setAttribute('height', '2286');
ov.innerHTML = defs + svg;
root.appendChild(ov);
</script>
</body>
</html>
